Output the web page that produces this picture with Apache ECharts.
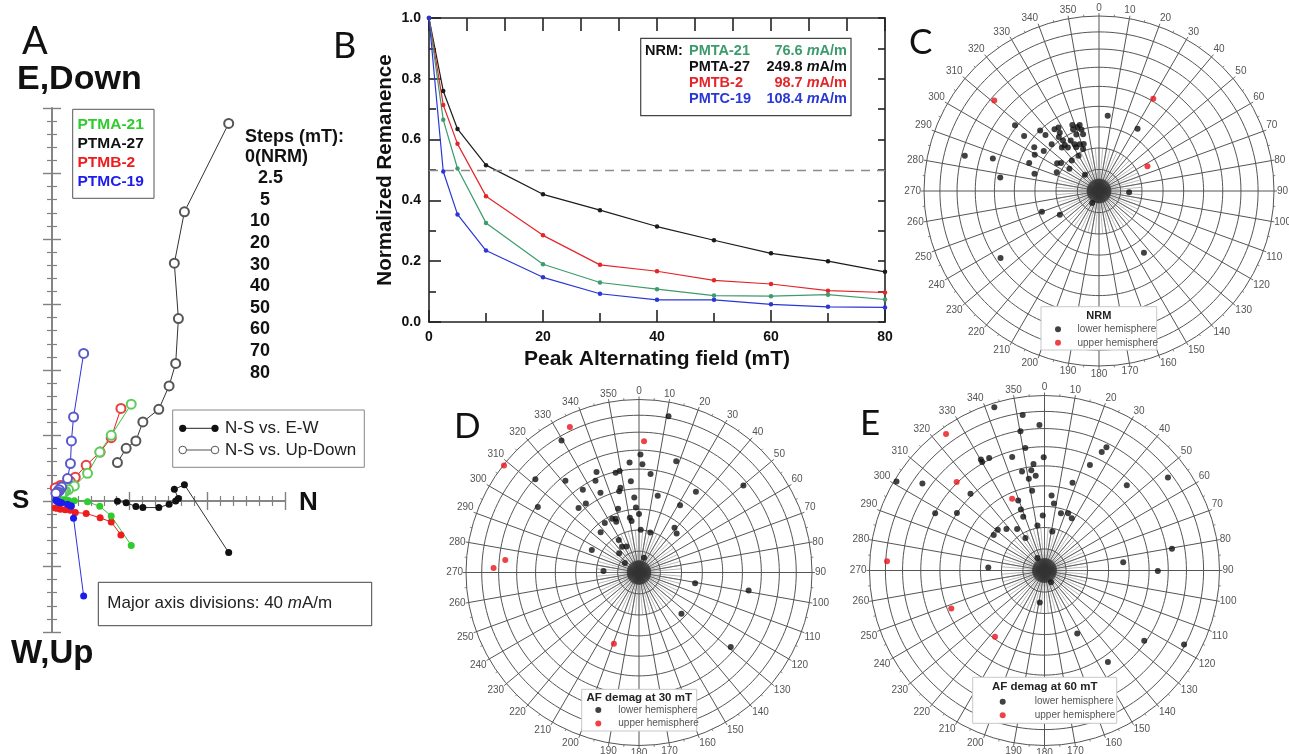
<!DOCTYPE html>
<html>
<head>
<meta charset="utf-8">
<title>Paleomagnetic demagnetization results</title>
<script src="https://cdn.jsdelivr.net/npm/echarts@6.0.0/dist/echarts.min.js"></script>
<style>
html,body{margin:0;padding:0;background:#ffffff;}
#chart{width:1289px;height:754px;}
</style>
</head>
<body>
<div id="chart"></div>
<script>
// ---------------- Panel B : AF demagnetization (normalized remanence) ----------------
const afSteps   = [0, 2.5, 5, 10, 20, 30, 40, 50, 60, 70, 80];
const remPTMA21 = [1, 0.665, 0.505, 0.326, 0.19, 0.13, 0.108, 0.087, 0.085, 0.09, 0.074];
const remPTMA27 = [1, 0.76, 0.635, 0.516, 0.42, 0.368, 0.314, 0.269, 0.226, 0.2, 0.165];
const remPTMB2  = [1, 0.714, 0.586, 0.414, 0.285, 0.188, 0.167, 0.137, 0.125, 0.103, 0.097];
const remPTMC19 = [1, 0.495, 0.354, 0.235, 0.147, 0.093, 0.073, 0.073, 0.058, 0.05, 0.048];
const nrmNames  = ['PMTA-21', 'PMTA-27', 'PMTB-2', 'PMTC-19'];
const nrmValues = ['76.6', '249.8', '98.7', '108.4'];

// ---------------- Panel A : orthogonal (Zijderveld) plot, mA/m ----------------
const ptma27N    = [91.0, 68.2, 63.0, 65.1, 63.7, 60.3, 55.0, 46.8, 43.2, 38.2, 33.7];
const ptma27E    = [-31.5, 10.0, 7.1, 1.6, 0.0, -2.0, -4.0, -4.0, -3.4, -1.0, -0.2];
const ptma27Down = [230.6, 176.6, 145.2, 111.4, 84.0, 70.3, 56.0, 48.3, 36.7, 32.2, 23.5];
const ptma21N    = [40.8, 30.5, 24.6, 18.3, 11.5, 8.5, 7.0, 6.0, 5.5, 6.0, 5.0];
const ptma21E    = [-27.1, -9.2, -3.2, -0.5, 0.1, 0.3, 0.5, 0.3, 0.8, 0.5, 0.5];
const ptma21Down = [59.1, 40.1, 29.9, 16.9, 9.2, 7.0, 6.0, 5.5, 5.0, 5.0, 4.5];
const ptmb2N     = [35.5, 30.5, 24.8, 17.6, 12.0, 9.4, 6.8, 4.3, 2.7, 1.7];
const ptmb2E     = [-20.7, -12.8, -10.3, -7.6, -7.0, -5.7, -5.4, -5.1, -4.5, -4.2];
const ptmb2Down  = [56.5, 38.7, 29.9, 21.8, 14.5, 12.0, 10.0, 9.5, 8.3, 8.0];
const ptmc19N    = [16.3, 11.1, 10.0, 9.5, 8.0, 5.0, 4.0, 3.5, 3.0, 2.5, 2.0];
const ptmc19E    = [-58.0, -10.6, -3.0, -3.0, -2.0, -1.0, -1.0, -0.5, -0.5, 0.0, 0.5];
const ptmc19Down = [90.1, 51.3, 36.7, 22.9, 13.7, 8.5, 6.5, 6.8, 5.5, 4.8, 4.7];
const specimenLabels = ['PTMA-21', 'PTMA-27', 'PTMB-2', 'PTMC-19'];

// ---------------- Panels C-E : equal-area stereonets, [declination, inclination] ----------------
const nrmLower = [[6.6,54.4],[31.8,55.6],[308.1,38.9],[306.3,45.9],[284.7,21.8],[287,36.7],[277.8,42.5],[235.8,32.5],
  [250.1,61.6],[238.9,68.7],[209.8,83.6],[92.6,76],[144,54],[319.3,80],[315.8,50.1],[316.3,53.5],[304,53.2],
  [299.5,55.3],[291.9,54.6],[284.9,58.7],[305.9,58],[314.7,58.8],[303.5,66.6],[306.5,68],[306.9,72.8],[318.3,71],
  [327.4,54.6],[324.2,54.2],[326.1,57],[323.4,58.4],[324.5,61],[323.4,63.2],[319.5,63.3],[324.5,65],[330.7,63],
  [338,56.6],[337.2,58.6],[341.4,58.3],[343.7,57.7],[344.1,60],[338.2,61.5],[344.3,62.5],[332.5,65.4],[337.6,66.4],
  [332.5,67],[339.2,69.1],[330,71],[342,67],[293.9,68.5]];
const nrmUpper = [[310.8,22],[30.5,38.8],[62.9,64.6]];
const af30Lower = [[10.7,9],[329.6,12.5],[0.7,32.3],[355.1,36.3],[1.8,37.5],[18.5,32.7],[6.7,42.2],[349.2,40],
  [346.8,40.5],[337.1,37],[334.6,41],[354.9,46],[321.3,32.5],[312,20.5],[50.2,22.5],[35.2,42.4],[347.6,48.5],
  [346.3,50],[325.8,41.8],[334.2,47.6],[13.7,52.3],[356.4,54.2],[302.9,31],[316.9,47.6],[322.4,48.3],[341.8,58.2],
  [357.3,59.1],[31.4,52.4],[0,62.3],[333.4,61.6],[336.5,62.3],[335.9,63.7],[325.4,61.5],[350.5,63.8],[351.8,65.5],
  [316.5,63.7],[2.3,69.9],[15.7,70.4],[38.4,63],[44,64.4],[328.2,72],[326.7,75.5],[334.2,76.5],[314.2,77],
  [295.6,65.3],[303.8,82],[18.8,82.7],[272.6,73.3],[100.8,63],[99.3,36],[134.2,62],[129.1,32.2]];
const af30Upper = [[334.6,7.6],[2.2,25],[308.4,0.5],[275.3,23.4],[271.8,17],[199.4,54]];
const af60Lower = [[342.9,2.8],[352,11.3],[358,18],[350.2,20.4],[351.1,29.8],[26.7,22.3],[25.8,25.8],[359.6,35.5],
  [344.1,33.1],[333.8,29.1],[330.2,27.7],[330.1,29.3],[23.3,34.7],[354.1,38.7],[352.5,41.8],[347.2,41.6],
  [354.7,44.8],[350.3,45.8],[53,12.7],[305.5,15.4],[301,1.5],[17.7,46.3],[44,32.8],[351.2,51.9],[316,39],
  [5.4,54.6],[339.4,54.8],[8,58.3],[338.8,59.4],[297.6,30.2],[303.3,39.9],[16,62.1],[22.4,61],[27.5,62.4],
  [358.2,64.3],[338.4,63],[351.1,68.8],[326.6,66.8],[317.5,63.7],[311.1,61],[305,61],[329.6,72.5],[11.2,71.5],
  [330.6,83.3],[273,63.7],[80.3,27],[84,52.7],[90.2,35.5],[150.7,83.8],[188.4,75],[152.5,56.7],[125.2,30.9],
  [117.9,10.7],[145.3,36.5]];
const af60Upper = [[324.2,4.3],[315.2,29.5],[335.7,52.9],[273.4,10.8],[247.8,42],[216.8,51]];
const ringInclinations = [10, 20, 30, 40, 50, 60, 70, 80];
const stereoTitles = ['NRM', 'AF demag at 30 mT', 'AF demag at 60 mT'];
const hemisphereNames = ['lower hemisphere', 'upper hemisphere'];

// ============================================================================================
const FONT = "'Liberation Sans', Arial, Helvetica, sans-serif";
const LETTER_FONT = "Lato, 'Open Sans', sans-serif";
const eqArea = inc => Math.SQRT2 * Math.sin((90 - inc) / 2 * Math.PI / 180);

const series = [];
const graphic = [];
function T(x, y, text, st, z) {
  graphic.push({type: 'text', x: x, y: y, z: z || 100, silent: true,
    style: Object.assign({text: text, fontFamily: FONT, fontSize: 14, fill: '#111',
      align: 'left', verticalAlign: 'middle'}, st || {})});
}
function R(x, y, w, h, st, z) {
  graphic.push({type: 'rect', z: z || 90, silent: true, shape: {x: x, y: y, width: w, height: h},
    style: Object.assign({fill: '#fff', stroke: '#555', lineWidth: 1}, st || {})});
}

// ---------------- Panel A ----------------
const specimens = [
  {N: ptma27N, E: ptma27E, D: ptma27Down, fill: '#111111', open: '#555555', line: '#333333'},
  {N: ptmb2N,  E: ptmb2E,  D: ptmb2Down,  fill: '#ee1c1c', open: '#e84040', line: '#e52020'},
  {N: ptma21N, E: ptma21E, D: ptma21Down, fill: '#2fcc2f', open: '#5ccc5c', line: '#3cbf3c'},
  {N: ptmc19N, E: ptmc19E, D: ptmc19Down, fill: '#1c1cee', open: '#5a5acc', line: '#3030dd'}
];
specimens.forEach(s => {
  series.push({type: 'line', xAxisIndex: 0, yAxisIndex: 0, z: 4,
    data: s.N.map((n, i) => [n, s.D[i]]), symbol: 'emptyCircle', symbolSize: 9,
    itemStyle: {color: s.open, borderWidth: 1}, lineStyle: {color: s.line, width: 1}});
  series.push({type: 'line', xAxisIndex: 0, yAxisIndex: 0, z: 5,
    data: s.N.map((n, i) => [n, s.E[i]]), symbol: 'circle', symbolSize: 7,
    itemStyle: {color: s.fill}, lineStyle: {color: s.line, width: 1}});
});

const zijAxisCommon = {
  axisLine: {onZero: true, lineStyle: {color: '#808080', width: 1.6}},
  axisLabel: {show: false}, splitLine: {show: false}
};
const xAxes = [
  Object.assign({gridIndex: 0, type: 'value', position: 'bottom', min: 0, max: 120, interval: 40,
    axisTick: {inside: true, length: 9, lineStyle: {color: '#808080', width: 1.4}},
    minorTick: {show: true, splitNumber: 6, length: 5, lineStyle: {color: '#808080', width: 1.2}}}, zijAxisCommon),
  Object.assign({gridIndex: 0, type: 'value', position: 'bottom', min: 0, max: 120, interval: 40,
    axisTick: {inside: false, length: 9, lineStyle: {color: '#808080', width: 1.4}},
    minorTick: {show: true, splitNumber: 6, length: 5, lineStyle: {color: '#808080', width: 1.2}}}, zijAxisCommon)
];
const yAxes = [
  Object.assign({gridIndex: 0, type: 'value', position: 'left', min: -80, max: 240, interval: 40,
    axisTick: {inside: true, length: 9, lineStyle: {color: '#808080', width: 1.4}},
    minorTick: {show: true, splitNumber: 5, length: 5, lineStyle: {color: '#808080', width: 1.2}}}, zijAxisCommon),
  Object.assign({gridIndex: 0, type: 'value', position: 'left', min: -80, max: 240, interval: 40,
    axisTick: {inside: false, length: 9, lineStyle: {color: '#808080', width: 1.4}},
    minorTick: {show: true, splitNumber: 5, length: 5, lineStyle: {color: '#808080', width: 1.2}}}, zijAxisCommon)
];

// Panel A texts
T(22, 42, 'A', {fontFamily: LETTER_FONT, fontSize: 38, fill: '#111'});
T(17, 80, 'E,Down', {fontWeight: 'bold', fontSize: 34, fill: '#111'});
T(11, 654, 'W,Up', {fontWeight: 'bold', fontSize: 33, fill: '#111'});
T(12, 501, 'S', {fontWeight: 'bold', fontSize: 26, fill: '#111'});
T(299, 502.5, 'N', {fontWeight: 'bold', fontSize: 26, fill: '#111'});
// specimen box
R(72.7, 109.3, 81.3, 89, {stroke: '#555', lineWidth: 1});
const specColors = ['#2fcc2f', '#111111', '#ee1c1c', '#1c1cee'];
const specRowY = [124.3, 144, 162.7, 181.7];
specimenLabels.forEach((s, i) => T(77.5, specRowY[i], s, {fontWeight: 'bold', fontSize: 15.5, fill: specColors[i]}));
// steps list
T(245, 136.7, 'Steps (mT):', {fontWeight: 'bold', fontSize: 18});
afSteps.forEach((v, i) => {
  const label = v === 0 ? '0(NRM)' : String(v);
  const x = v === 0 ? 245 : (v === 2.5 ? 258 : (v === 5 ? 260 : 250));
  T(x, 156.7 + i * 21.6, label, {fontWeight: 'bold', fontSize: 18});
});
// symbol legend
R(172.7, 410, 191.6, 57.3, {stroke: '#888', lineWidth: 1});
graphic.push({type: 'line', z: 101, silent: true, shape: {x1: 182.7, y1: 428.3, x2: 215, y2: 428.3}, style: {stroke: '#222', lineWidth: 1}});
graphic.push({type: 'circle', z: 102, silent: true, shape: {cx: 182.7, cy: 428.3, r: 3.6}, style: {fill: '#111'}});
graphic.push({type: 'circle', z: 102, silent: true, shape: {cx: 215, cy: 428.3, r: 3.6}, style: {fill: '#111'}});
graphic.push({type: 'line', z: 101, silent: true, shape: {x1: 182.7, y1: 450, x2: 215, y2: 450}, style: {stroke: '#555', lineWidth: 1}});
graphic.push({type: 'circle', z: 102, silent: true, shape: {cx: 182.7, cy: 450, r: 3.8}, style: {fill: '#fff', stroke: '#555', lineWidth: 1}});
graphic.push({type: 'circle', z: 102, silent: true, shape: {cx: 215, cy: 450, r: 3.8}, style: {fill: '#fff', stroke: '#555', lineWidth: 1}});
T(225, 428.3, 'N-S vs. E-W', {fontSize: 17, fill: '#222'}, 102);
T(225, 450, 'N-S vs. Up-Down', {fontSize: 17, fill: '#222'}, 102);
// major axis divisions box
R(98.3, 582.3, 273.4, 43.4, {stroke: '#444', lineWidth: 1});
T(107.3, 603.3, 'Major axis divisions: 40 {i|m}A/m', {fontSize: 17, fill: '#222',
  rich: {i: {fontStyle: 'italic', fontSize: 17, fontFamily: FONT, fill: '#222'}}}, 102);

// ---------------- Panel B ----------------
const bSeries = [
  {data: remPTMA27, color: '#1b1b1b'},
  {data: remPTMB2, color: '#e4262a'},
  {data: remPTMA21, color: '#3d9b6d'},
  {data: remPTMC19, color: '#2b37d4'}
];
bSeries.forEach((s, k) => {
  const ser = {type: 'line', xAxisIndex: 2, yAxisIndex: 2, z: 4,
    data: afSteps.map((x, i) => [x, s.data[i]]), symbol: 'circle', symbolSize: 4.5,
    itemStyle: {color: s.color}, lineStyle: {color: s.color, width: 1.2}};
  if (k === 0) {
    ser.markLine = {silent: true, symbol: ['none', 'none'], label: {show: false},
      lineStyle: {type: [9, 7], color: '#8a8a8a', width: 1.3}, data: [{yAxis: 0.5}]};
  }
  series.push(ser);
});
const bLine = {lineStyle: {color: '#222', width: 1.6}, onZero: false};
const bTick = c => ({inside: true, length: c, lineStyle: {color: '#222', width: 1.6}});
xAxes.push({gridIndex: 1, type: 'value', position: 'bottom', min: 0, max: 80, interval: 20,
  axisLine: bLine, axisTick: bTick(12),
  minorTick: {show: true, splitNumber: 2, length: 9, lineStyle: {color: '#222', width: 1.6}},
  axisLabel: {fontFamily: FONT, fontWeight: 'bold', fontSize: 14, color: '#111', margin: 8},
  splitLine: {show: false},
  name: 'Peak Alternating field (mT)', nameLocation: 'middle', nameGap: 27,
  nameTextStyle: {fontFamily: FONT, fontWeight: 'bold', fontSize: 21, color: '#111'}});
xAxes.push({gridIndex: 1, type: 'value', position: 'top', min: 0, max: 80, interval: 80 / 12,
  axisLine: bLine, axisTick: bTick(13), axisLabel: {show: false}, splitLine: {show: false}});
yAxes.push({gridIndex: 1, type: 'value', position: 'left', min: 0, max: 1, interval: 0.2,
  axisLine: bLine, axisTick: bTick(12),
  minorTick: {show: true, splitNumber: 2, length: 7, lineStyle: {color: '#222', width: 1.6}},
  axisLabel: {fontFamily: FONT, fontWeight: 'bold', fontSize: 14, color: '#111', margin: 8,
    formatter: v => v.toFixed(1)},
  splitLine: {show: false},
  name: 'Normalized Remanence', nameLocation: 'middle', nameGap: 33, nameRotate: 90,
  nameTextStyle: {fontFamily: FONT, fontWeight: 'bold', fontSize: 20.5, color: '#111'}});
yAxes.push({gridIndex: 1, type: 'value', position: 'right', min: 0, max: 1, interval: 0.1,
  axisLine: bLine, axisTick: bTick(7), axisLabel: {show: false}, splitLine: {show: false}});

T(333, 46, 'B', {fontFamily: LETTER_FONT, fontSize: 36, fill: '#111'});
R(640.7, 38.3, 210.3, 77.4, {stroke: '#444', lineWidth: 1.2});
T(645, 50.7, 'NRM:', {fontWeight: 'bold', fontSize: 14.5, fill: '#111'}, 102);
const nrmColors = ['#3d9b6d', '#111111', '#e4262a', '#2b37d4'];
const nrmRowY = [50.7, 66.7, 82.7, 99.3];
nrmNames.forEach((n, i) => {
  T(689, nrmRowY[i], n, {fontWeight: 'bold', fontSize: 14.5, fill: nrmColors[i]}, 102);
  T(847, nrmRowY[i], nrmValues[i] + ' {i|m}A/m', {fontWeight: 'bold', fontSize: 14.5, fill: nrmColors[i], align: 'right',
    rich: {i: {fontStyle: 'italic', fontWeight: 'bold', fontSize: 14.5, fontFamily: FONT, fill: nrmColors[i]}}}, 102);
});

// ---------------- Panels C, D, E : stereonets ----------------
const stereoPlots = [
  {cx: 1099, cy: 191, R: 175, lower: nrmLower, upper: nrmUpper, letter: 'C', lx: 909, ly: 43,
   box: [1041, 306.7, 115.7, 43.3], titleY: 315.5, legendLeft: 1055, legendTop: 323.3, textPad: 11.5},
  {cx: 639, cy: 572.5, R: 173, lower: af30Lower, upper: af30Upper, letter: 'D', lx: 454, ly: 426.5,
   box: [581.7, 689.3, 115, 41.7], titleY: 697.7, legendLeft: 595.3, legendTop: 704, textPad: 12},
  {cx: 1044.5, cy: 570.5, R: 175, lower: af60Lower, upper: af60Upper, letter: 'E', lx: 860, ly: 423.5,
   box: [972.7, 677.3, 144, 46], titleY: 686.7, legendLeft: 999.7, legendTop: 695.7, textPad: 24}
];
const polar = [], angleAxis = [], radiusAxis = [], legend = [];
const hiddenRadius = {type: 'value', min: 0, max: 1, axisLine: {show: false}, axisTick: {show: false},
  axisLabel: {show: false}, splitLine: {show: false}};
const ringAngles = [];
for (let a = 0; a <= 360; a += 2) ringAngles.push(a);

stereoPlots.forEach((p, k) => {
  const base = polar.length;
  polar.push({center: [p.cx, p.cy], radius: p.R});
  angleAxis.push({polarIndex: base, type: 'value', min: 0, max: 360, interval: 10, startAngle: 90, clockwise: true,
    axisLine: {lineStyle: {color: '#555', width: 1}},
    axisTick: {show: true, length: 3, lineStyle: {color: '#666', width: 1}},
    minorTick: {show: true, splitNumber: 2, length: 2, lineStyle: {color: '#888', width: 1}},
    axisLabel: {fontFamily: FONT, fontSize: 10, color: '#555', margin: 3,
      formatter: v => (v === 360 ? '' : String(v))},
    splitLine: {show: true, lineStyle: {color: '#555', width: 1}}, z: 1});
  radiusAxis.push(Object.assign({polarIndex: base}, hiddenRadius));
  // denser spokes only very close to the centre
  [[0.2456, 5, 0.5, '#777'], [0.07, 2, 0.6, '#333']].forEach(([f, step, w, c]) => {
    const idx = polar.length;
    polar.push({center: [p.cx, p.cy], radius: p.R * f});
    angleAxis.push({polarIndex: idx, type: 'value', min: 0, max: 360, interval: step, startAngle: 90, clockwise: true,
      axisLine: {show: false}, axisTick: {show: false}, axisLabel: {show: false},
      splitLine: {show: true, lineStyle: {color: c, width: w}}, z: 1});
    radiusAxis.push(Object.assign({polarIndex: idx}, hiddenRadius));
  });
  ringInclinations.forEach(inc => {
    series.push({type: 'line', coordinateSystem: 'polar', polarIndex: base, silent: true, z: 1,
      data: ringAngles.map(a => [eqArea(inc), a]), symbol: 'none',
      lineStyle: {color: '#555', width: 1}});
  });
  series.push({type: 'scatter', name: hemisphereNames[0], coordinateSystem: 'polar', polarIndex: base, z: 5,
    data: p.lower.map(d => [eqArea(d[1]), d[0]]), symbol: 'circle', symbolSize: 6,
    itemStyle: {color: '#111'}});
  series.push({type: 'scatter', name: hemisphereNames[1], coordinateSystem: 'polar', polarIndex: base, z: 5,
    data: p.upper.map(d => [eqArea(d[1]), d[0]]), symbol: 'circle', symbolSize: 6,
    itemStyle: {color: '#e8141a'}});
  // legend box + title
  R(p.box[0], p.box[1], p.box[2], p.box[3], {stroke: '#c8c8c8', lineWidth: 1}, 100);
  T(p.box[0] + p.box[2] / 2, p.titleY, stereoTitles[k], {fontWeight: 'bold', fontSize: k === 0 ? 11 : 11.5,
    fill: '#222', align: 'center'}, 110);
  legend.push({left: p.legendLeft, top: p.legendTop, orient: 'vertical', itemWidth: 6, itemHeight: 6,
    itemGap: 1.5, icon: 'circle', selectedMode: false, z: 120, padding: 0,
    data: hemisphereNames,
    textStyle: {fontFamily: FONT, fontSize: 10, color: '#555', lineHeight: 12, padding: [0, 0, 0, p.textPad]}});
  T(p.lx, p.ly, p.letter, {fontFamily: LETTER_FONT, fontSize: 35, fill: '#111'});
});

const option = {
  animation: false,
  backgroundColor: '#ffffff',
  grid: [
    {left: 52, top: 108, width: 233, height: 524},
    {left: 429, top: 18, width: 456, height: 304}
  ],
  xAxis: xAxes,
  yAxis: yAxes,
  polar: polar,
  angleAxis: angleAxis,
  radiusAxis: radiusAxis,
  legend: legend,
  graphic: graphic,
  series: series
};
const chart = echarts.init(document.getElementById('chart'), null, {renderer: 'canvas'});
chart.setOption(option);
</script>
</body>
</html>
